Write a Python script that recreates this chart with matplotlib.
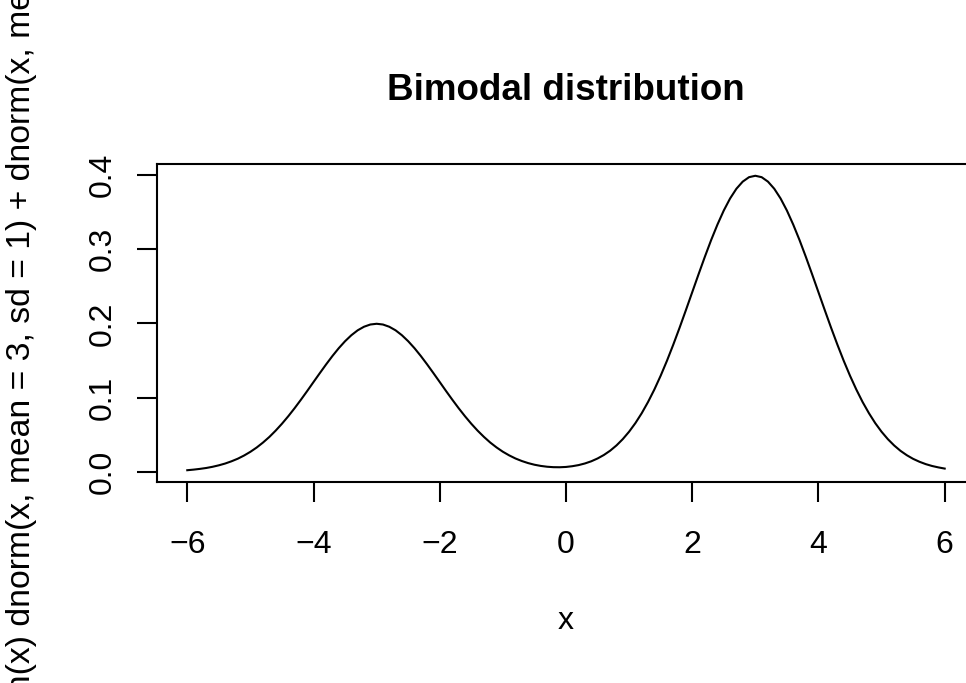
import numpy as np
import matplotlib
matplotlib.use("Agg")
import matplotlib.pyplot as plt

# density of the two-component mixture, sampled on a 0.1 grid from -6 to 6
x = np.round(np.linspace(-6.0, 6.0, 121), 1)
density = [
    0.0022, 0.0030, 0.0040, 0.0052, 0.0068, 0.0088, 0.0112, 0.0142, 0.0177, 0.0220,
    0.0270, 0.0328, 0.0395, 0.0470, 0.0555, 0.0648, 0.0749, 0.0857, 0.0971, 0.1089,
    0.1210, 0.1330, 0.1448, 0.1561, 0.1666, 0.1760, 0.1841, 0.1907, 0.1955, 0.1985,
    0.1995, 0.1985, 0.1955, 0.1907, 0.1841, 0.1760, 0.1666, 0.1561, 0.1448, 0.1330,
    0.1210, 0.1089, 0.0971, 0.0857, 0.0749, 0.0648, 0.0555, 0.0471, 0.0395, 0.0329,
    0.0271, 0.0222, 0.0180, 0.0146, 0.0118, 0.0096, 0.0080, 0.0069, 0.0063, 0.0062,
    0.0066, 0.0076, 0.0091, 0.0113, 0.0142, 0.0180, 0.0227, 0.0285, 0.0356, 0.0441,
    0.0541, 0.0657, 0.0790, 0.0941, 0.1109, 0.1295, 0.1497, 0.1714, 0.1942, 0.2179,
    0.2420, 0.2661, 0.2897, 0.3123, 0.3332, 0.3521, 0.3683, 0.3814, 0.3910, 0.3970,
    0.3989, 0.3970, 0.3910, 0.3814, 0.3683, 0.3521, 0.3332, 0.3123, 0.2897, 0.2661,
    0.2420, 0.2179, 0.1942, 0.1714, 0.1497, 0.1295, 0.1109, 0.0940, 0.0790, 0.0656,
    0.0540, 0.0440, 0.0355, 0.0283, 0.0224, 0.0175, 0.0136, 0.0104, 0.0079, 0.0060,
    0.0044,
]
xticks = [-6, -4, -2, 0, 2, 4, 6]
yticks = [0.0, 0.1, 0.2, 0.3, 0.4]
ytick_labels = ["0.0", "0.1", "0.2", "0.3", "0.4"]
title = "Bimodal distribution"
ylab = "function(x) dnorm(x, mean = 3, sd = 1) + dnorm(x, mean = -3)/2"

plt.rcParams["font.family"] = ["Liberation Sans", "DejaVu Sans"]
fs = 23

fig = plt.figure(figsize=(9.66, 6.83), dpi=100)
ax = fig.add_axes([0.1625, 0.2943, 0.8468, 0.4656])

ax.plot(x, density, color="black", lw=1.5)
ax.margins(x=0.04, y=0.04)

ax.set_xticks(xticks)
ax.set_xticklabels([str(t).replace("-", "\u2212") for t in xticks])
ax.set_yticks(yticks)
ax.set_yticklabels(ytick_labels, rotation=90, va="center")
ax.tick_params(axis="both", length=14.4, width=1.5, labelsize=fs, color="black")
ax.tick_params(axis="x", pad=20.5)
ax.tick_params(axis="y", pad=14)
for s in ax.spines.values():
    s.set_linewidth(1.5)

ax.set_xlabel("x", fontsize=fs, labelpad=33)
fig.text(0.5855, 1 - 90 / 683, title, ha="center", va="center",
         fontsize=26.5, fontweight="bold")
# long label centred on the plot region, clipped by the figure edges
fig.text(22 / 966, 1 - 319 / 683, ylab, rotation=90, ha="center", va="center",
         fontsize=24.3)

fig.savefig("out.png", dpi=100)
